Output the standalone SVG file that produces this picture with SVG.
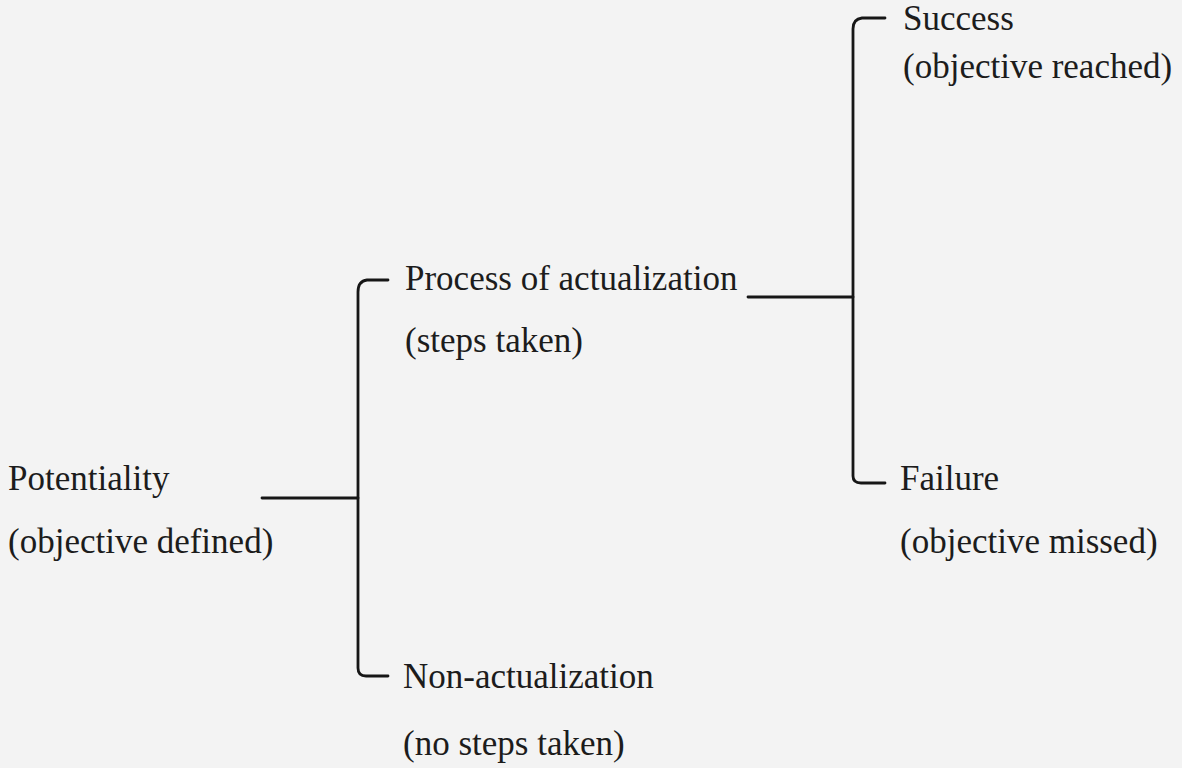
<svg xmlns="http://www.w3.org/2000/svg" width="1182" height="768" viewBox="0 0 1182 768">
<style>
.t{font-family:"Liberation Serif","Times New Roman",serif;font-size:35px;fill:#1c1c1c}
.c{fill:none;stroke:#161616;stroke-width:2.8;stroke-linecap:round;stroke-linejoin:round}
</style>
<rect width="1182" height="768" fill="#f3f3f3"/>
<g id="connectors">
<path class="c" d="M262 498 H358"/>
<path class="c" d="M388 280 H367 Q358 281 358 292 V668 Q358 676 366 676 H388"/>
<path class="c" d="M748 297 H853"/>
<path class="c" d="M885 18 H862 Q853 19 853 29 V476 Q853 483 861 483 H885"/>
</g>
<g id="potentiality"><text class="t" x="8" y="490">Potentiality</text><text class="t" x="8" y="553">(objective defined)</text></g>
<g id="process"><text class="t" x="405" y="290">Process of actualization</text><text class="t" x="405" y="352">(steps taken)</text></g>
<g id="non-actualization"><text class="t" x="403" y="688">Non-actualization</text><text class="t" x="403" y="755">(no steps taken)</text></g>
<g id="success"><text class="t" x="903" y="30">Success</text><text class="t" x="903" y="78">(objective reached)</text></g>
<g id="failure"><text class="t" x="900" y="490">Failure</text><text class="t" x="900" y="553">(objective missed)</text></g>
</svg>
